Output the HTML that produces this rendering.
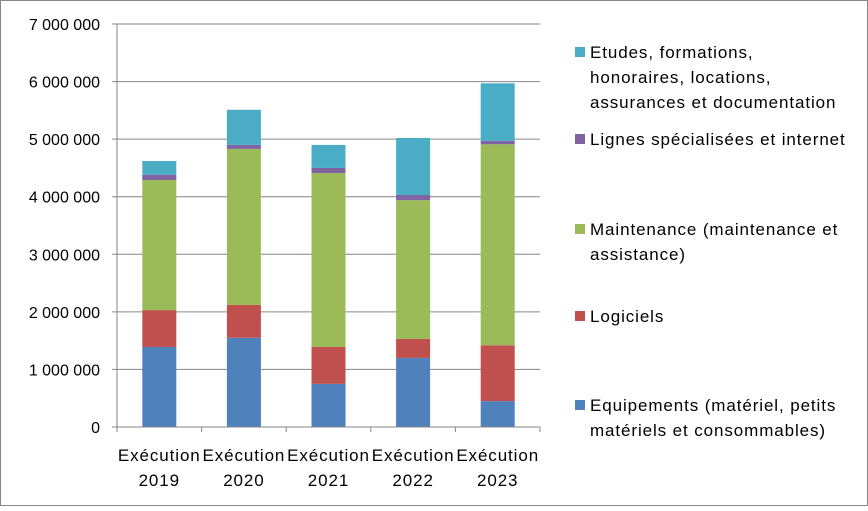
<!DOCTYPE html>
<html><head><meta charset="utf-8"><style>
body{margin:0;background:#fff;}
svg text{font-family:"Liberation Sans",sans-serif;font-size:16px;fill:#000;}
svg text.wide{font-size:17px;letter-spacing:0.9px;}
</style></head><body>
<svg id="chart" width="868" height="506" viewBox="0 0 868 506">
<rect x="0.5" y="0.5" width="867" height="505" fill="#fff" stroke="#868686"/>
<g id="grid"></g><g id="bars"></g><g id="axes"></g><g id="legend"></g>
</svg>
<script>
const categories=["2019","2020","2021","2022","2023"];
const equipements=[1390000,1550000,750000,1200000,450000];
const logiciels=[640000,570000,640000,330000,970000];
const maintenance=[2260000,2710000,3020000,2410000,3490000];
const lignes=[90000,70000,90000,90000,60000];
const etudes=[240000,610000,400000,990000,1000000];
const yTicks=[0,1000000,2000000,3000000,4000000,5000000,6000000,7000000];
const yTickLabels=["0","1 000 000","2 000 000","3 000 000","4 000 000","5 000 000","6 000 000","7 000 000"];
const seriesNames=["Equipements (matériel, petits|matériels et consommables)","Logiciels","Maintenance (maintenance et|assistance)","Lignes spécialisées et internet","Etudes, formations,|honoraires, locations,|assurances et documentation"];
const seriesColors=["#4F81BD","#C0504D","#9BBB59","#8064A2","#4BACC6"];
const seriesKeys=["equipements","logiciels","maintenance","lignes","etudes"];
const series=[equipements,logiciels,maintenance,lignes,etudes];

const NS="http://www.w3.org/2000/svg";
const x0=117,x1=540,yBase=427,yTop=24,yMax=7000000;
const y=v=>yBase-(v/yMax)*(yBase-yTop);
const band=(x1-x0)/categories.length;
const xc=i=>x0+band*(i+0.5);
const bw=34;
function mk(tag,attrs,parent){const e=document.createElementNS(NS,tag);for(const k in attrs)e.setAttribute(k,attrs[k]);parent.appendChild(e);return e;}
const grid=document.getElementById('grid'),bars=document.getElementById('bars'),axes=document.getElementById('axes'),legend=document.getElementById('legend');
yTicks.forEach((t,i)=>{
 const l=mk('line',{x1:x0-5,x2:x1,y1:y(t),y2:y(t),stroke:'#868686','stroke-width':1},grid);
 
 
 const tx=mk('text',{x:100,y:y(t)+6,'text-anchor':'end'},axes);
 tx.textContent=yTickLabels[i];
 
 
});
categories.forEach((c,i)=>{
 let acc=0;
 series.forEach((s,k)=>{
  const v=s[i];
  const r=mk('rect',{x:xc(i)-bw/2,y:y(acc+v),width:bw,height:y(acc)-y(acc+v),fill:seriesColors[k]},bars);
  
  
  acc+=v;
 });
 const t1=mk('text',{x:xc(i),y:461,'text-anchor':'middle','class':'wide'},axes);t1.textContent='Exécution';
 
 
 const t2=mk('text',{x:xc(i),y:486,'text-anchor':'middle','class':'wide'},axes);t2.textContent=c;
 
 
});
for(let i=0;i<=categories.length;i++){
 const t=mk('line',{x1:x0+band*i,x2:x0+band*i,y1:yBase,y2:yBase+5,stroke:'#868686'},axes);
 
 
}
const ax=mk('line',{x1:x0,x2:x0,y1:yTop,y2:yBase,stroke:'#868686'},axes);


const bx=mk('line',{x1:x0,x2:x1,y1:yBase,y2:yBase,stroke:'#868686'},axes);


const legY=[405,316,229,139,52];
seriesNames.forEach((n,k)=>{
 const g=mk('g',{},legend);
 
 
 mk('rect',{x:575,y:legY[k]-5,width:10,height:10,fill:seriesColors[k]},g);
 n.split('|').forEach((ln,j)=>{const t=mk('text',{x:590,y:legY[k]+6+j*25,'class':'wide'},g);t.textContent=ln;});
});
</script>
</body></html>
